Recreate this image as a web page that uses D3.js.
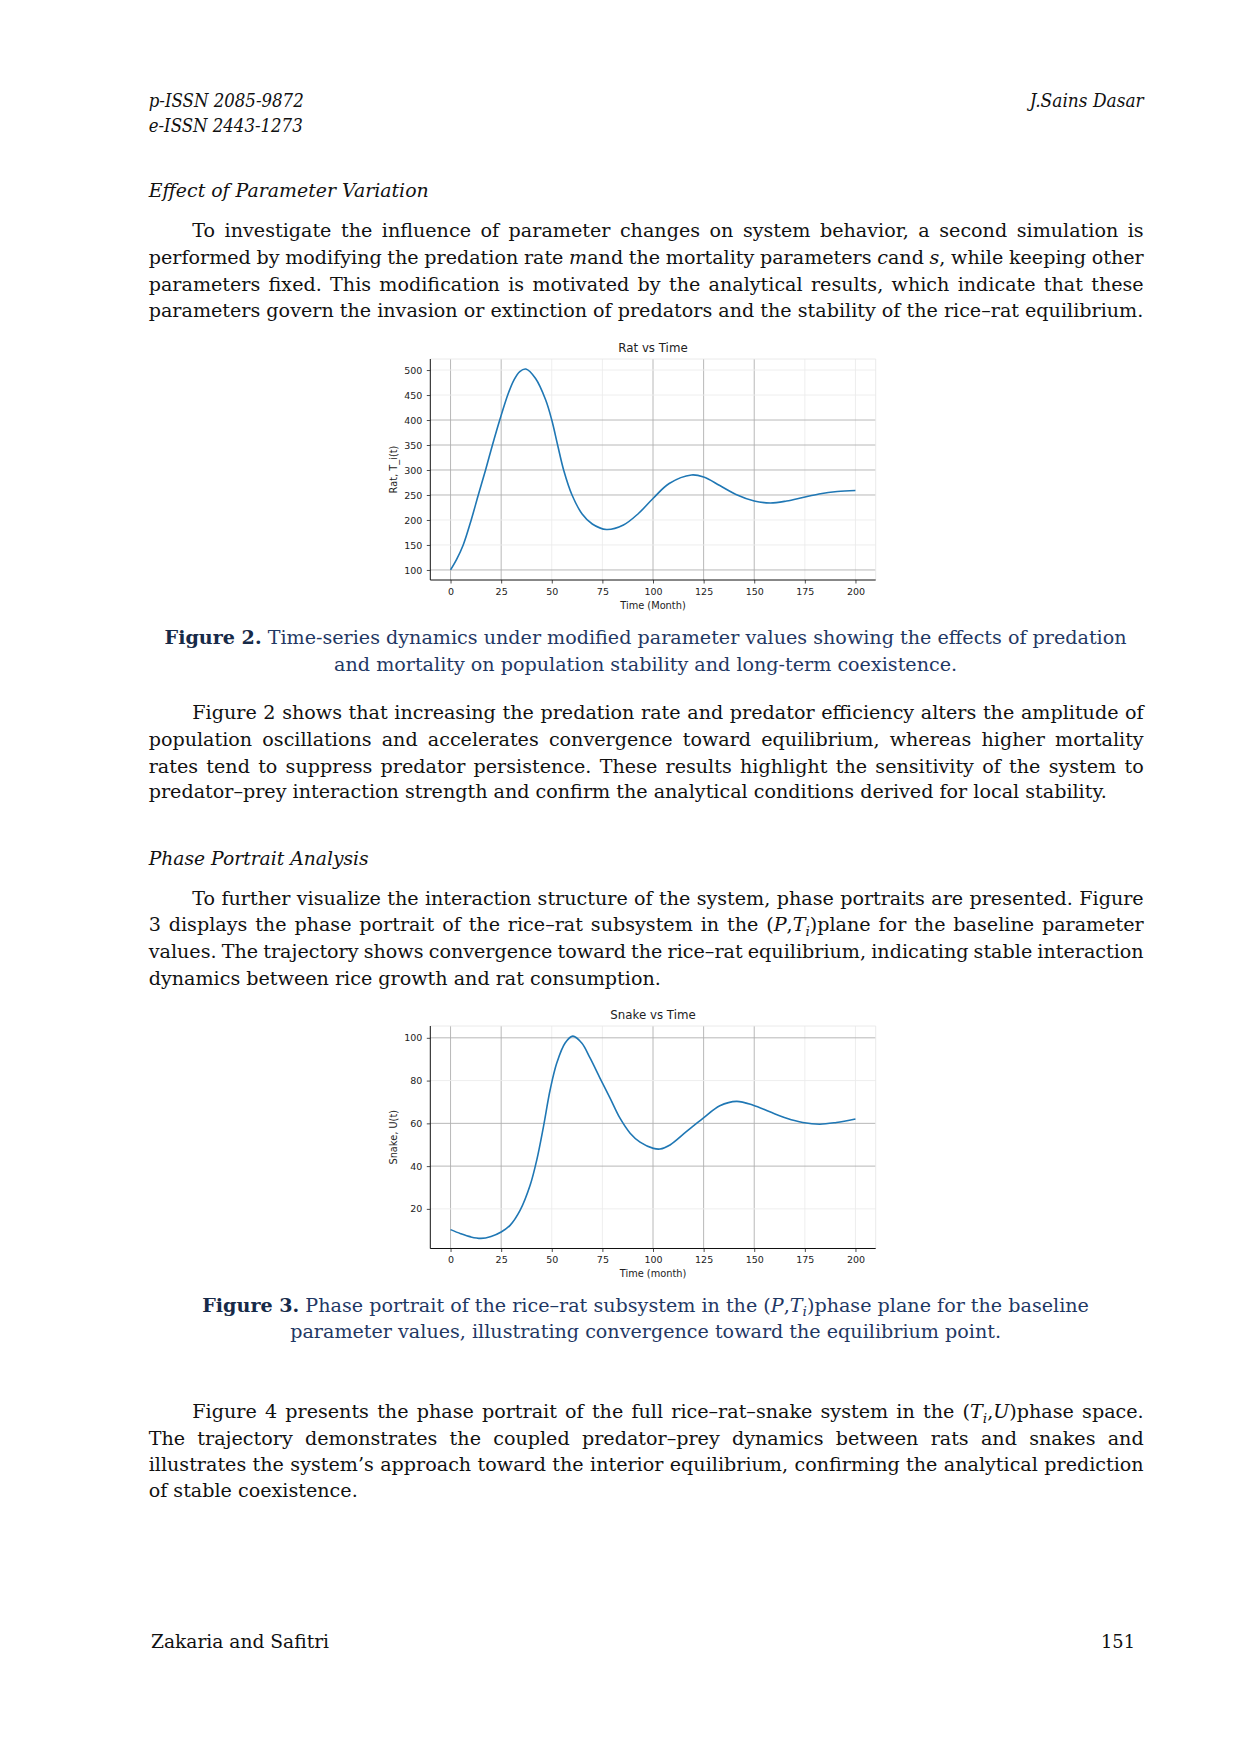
<!DOCTYPE html>
<html>
<head>
<meta charset="utf-8">
<script src="https://cdn.jsdelivr.net/npm/d3@7"></script>
<style>
  body { margin: 0; background: #fff; }
</style>
</head>
<body>
<svg id="page" width="1240" height="1754"></svg>
<script>
// ---- chart data ----
var ratTime   = [0, 3, 6.25, 10.2, 13.7, 17.3, 20.7, 24.3, 28.5, 31.3, 34.2, 37.2, 42, 47, 50, 53, 56, 60, 65, 70, 77, 85.4, 92.8, 100, 108, 119, 125, 133, 141, 150, 158, 166, 174, 182, 191, 200];
var ratValues = [100, 121, 150, 200, 250, 300, 350, 400, 453, 480, 497, 502, 483, 440, 400, 348, 298, 250, 212, 192, 181, 190, 213, 243, 273, 290, 286, 269, 251, 238, 234, 238, 245, 252, 257, 259];

var snakeTime   = [0, 5, 10, 15, 20, 25, 29.4, 34.4, 39.3, 42.6, 45.9, 49.2, 52.5, 56.6, 60.4, 64.8, 68.9, 73.8, 78.8, 83.7, 88.7, 93.6, 100.2, 103.5, 108.4, 116.6, 124.8, 133, 141.3, 149.5, 157.7, 166, 174, 182.4, 190.6, 200];
var snakeValues = [10.3, 8.4, 6.9, 6.2, 7.1, 9.2, 12.3, 19.4, 31, 42.9, 58.5, 75.7, 88.3, 97.6, 100.8, 97.6, 90.6, 81.2, 71.8, 62.4, 55.4, 51.2, 48.3, 48, 49.9, 56.2, 62.4, 68.2, 70.3, 68.5, 65.4, 62.4, 60.4, 59.6, 60.4, 62];

var timeTicks  = [0, 25, 50, 75, 100, 125, 150, 175, 200];
var ratTicks   = [100, 150, 200, 250, 300, 350, 400, 450, 500];
var snakeTicks = [20, 40, 60, 80, 100];

// gridlines that come out very light in the scanned figure
var ratFaintX = [50, 75, 175, 200], ratFaintY = [150, 200, 450, 500];
var snakeFaintX = [50, 75, 175, 200], snakeFaintY = [20, 80];

// ---- page text ----
// plain string = roman, [text, "I"] italic, [text, "B"] bold, [text, "S"] italic subscript
var para1 = [
  ["To investigate the influence of parameter changes on system behavior, a second simulation is"],
  ["performed by modifying the predation rate ", ["m", "I"], "and the mortality parameters ", ["c", "I"], "and ", ["s", "I"], ", while keeping other"],
  ["parameters fixed. This modification is motivated by the analytical results, which indicate that these"],
  ["parameters govern the invasion or extinction of predators and the stability of the rice–rat equilibrium."]
];
var caption2 = [
  [["Figure 2.", "B"], " Time-series dynamics under modified parameter values showing the effects of predation"],
  ["and mortality on population stability and long-term coexistence."]
];
var para2 = [
  ["Figure 2 shows that increasing the predation rate and predator efficiency alters the amplitude of"],
  ["population oscillations and accelerates convergence toward equilibrium, whereas higher mortality"],
  ["rates tend to suppress predator persistence. These results highlight the sensitivity of the system to"],
  ["predator–prey interaction strength and confirm the analytical conditions derived for local stability."]
];
var para3 = [
  ["To further visualize the interaction structure of the system, phase portraits are presented. Figure"],
  ["3 displays the phase portrait of the rice–rat subsystem in the (", ["P", "I"], ",", ["T", "I"], ["i", "S"], ")plane for the baseline parameter"],
  ["values. The trajectory shows convergence toward the rice–rat equilibrium, indicating stable interaction"],
  ["dynamics between rice growth and rat consumption."]
];
var caption3 = [
  [["Figure 3.", "B"], " Phase portrait of the rice–rat subsystem in the (", ["P", "I"], ",", ["T", "I"], ["i", "S"], ")phase plane for the baseline"],
  ["parameter values, illustrating convergence toward the equilibrium point."]
];
var para4 = [
  ["Figure 4 presents the phase portrait of the full rice–rat–snake system in the (", ["T", "I"], ["i", "S"], ",", ["U", "I"], ")phase space."],
  ["The trajectory demonstrates the coupled predator–prey dynamics between rats and snakes and"],
  ["illustrates the system’s approach toward the interior equilibrium, confirming the analytical prediction"],
  ["of stable coexistence."]
];

var svg = d3.select("#page");
var serif = "'DejaVu Serif', 'Liberation Serif', serif";
var sans = "'DejaVu Sans', sans-serif";
var marginL = 148.7, marginR = 1143.7, indent = 43.6, capCenter = 645.6;
var capColor = "#1f3864";

function addLine(segs, x, yc, size, color, anchor) {
  var t = svg.append("text")
      .attr("x", x).attr("y", yc + size * 0.3)
      .attr("text-anchor", anchor || "start")
      .style("font-family", serif).style("font-size", size + "px")
      .attr("fill", color || "#111");
  var shift = 0;
  segs.forEach(function(s) {
    if (typeof s === "string") s = [s, ""];
    var ts = t.append("tspan").text(s[0]);
    var dy = 0;
    if (s[1] === "S") {
      dy = size * 0.25; shift = dy;
      ts.style("font-size", (size * 0.72) + "px").style("font-style", "italic");
    } else if (shift) { dy = -shift; shift = 0; }
    if (dy) ts.attr("dy", dy);
    if (s[1] === "I") ts.style("font-style", "italic");
    if (s[1] === "B") ts.style("font-weight", "bold").attr("fill", "#172a48");
  });
  return t;
}

function justify(t, width) {
  var len = t.node().getComputedTextLength();
  var n = (t.text().match(/ /g) || []).length;
  if (n) t.style("word-spacing", ((width - len) / n) + "px");
}

// fit the body size so a full natural line spans the text block
var probe = addLine(para1[3], 0, -100, 20);
var bodySize = 20 * (marginR - marginL) / probe.node().getComputedTextLength();
probe.remove();

function paragraph(lines, ys) {
  lines.forEach(function(segs, i) {
    var x = i === 0 ? marginL + indent : marginL;
    var t = addLine(segs, x, ys[i], bodySize);
    if (i < lines.length - 1) justify(t, marginR - x);
  });
}

function caption(lines, ys) {
  lines.forEach(function(segs, i) {
    addLine(segs, capCenter, ys[i], bodySize, capColor, "middle");
  });
}

function fixedText(str, x, yc, width, italic, anchor) {
  svg.append("text")
    .attr("x", x).attr("y", yc + bodySize * 0.3)
    .attr("text-anchor", anchor || "start")
    .attr("textLength", width).attr("lengthAdjust", "spacingAndGlyphs")
    .style("font-family", serif).style("font-size", bodySize + "px")
    .style("font-style", italic ? "italic" : "normal")
    .attr("fill", "#111")
    .text(str);
}

// header, headings, footer
fixedText("p-ISSN 2085-9872", marginL, 101.7, 155, true);
fixedText("e-ISSN 2443-1273", marginL, 126.3, 154, true);
fixedText("J.Sains Dasar", marginR, 101.7, 114, true, "end");
fixedText("Effect of Parameter Variation", marginL, 191.2, 280, true);
fixedText("Phase Portrait Analysis", marginL, 859.7, 220, true);
fixedText("Zakaria and Safitri", 151, 1642.3, 178, false);
fixedText("151", 1135, 1642.3, 34, false, "end");

paragraph(para1, [231.4, 258.3, 285.1, 310.8]);
caption(caption2, [638.4, 665.2]);
paragraph(para2, [713.3, 740.1, 767.0, 792.7]);
paragraph(para3, [898.9, 925.7, 952.5, 979.4]);
caption(caption3, [1305.8, 1332.7]);
paragraph(para4, [1412.0, 1438.9, 1465.7, 1491.4]);

// ---- charts ----
function drawChart(cfg) {
  var g = svg.append("g");
  var x = d3.scaleLinear().domain([-10, 210]).range([cfg.left, cfg.right]);
  var ext = d3.extent(cfg.values), pad = (ext[1] - ext[0]) * 0.05;
  var y = d3.scaleLinear().domain([ext[0] - pad, ext[1] + pad]).range([cfg.bottom, cfg.top]);

  // grid
  g.selectAll("line.gx").data(timeTicks).enter().append("line")
    .attr("x1", function(d) { return x(d); }).attr("x2", function(d) { return x(d); })
    .attr("y1", cfg.top).attr("y2", cfg.bottom)
    .attr("stroke", function(d) { return cfg.faintX.indexOf(d) >= 0 ? "#ececec" : "#b0b0b0"; })
    .attr("stroke-width", 0.9);
  g.selectAll("line.gy").data(cfg.yTicks).enter().append("line")
    .attr("y1", function(d) { return y(d); }).attr("y2", function(d) { return y(d); })
    .attr("x1", cfg.left).attr("x2", cfg.right)
    .attr("stroke", function(d) { return cfg.faintY.indexOf(d) >= 0 ? "#ececec" : "#b0b0b0"; })
    .attr("stroke-width", 0.9);

  // faint top/right frame
  g.append("path")
    .attr("d", "M" + cfg.left + "," + cfg.top + "H" + cfg.right + "V" + cfg.bottom)
    .attr("fill", "none").attr("stroke", "#e8e8e8").attr("stroke-width", 0.9);

  // series
  var line = d3.line()
    .x(function(d, i) { return x(cfg.time[i]); })
    .y(function(d) { return y(d); })
    .curve(d3.curveCatmullRom.alpha(0.5));
  g.append("path").datum(cfg.values)
    .attr("d", line)
    .attr("fill", "none").attr("stroke", "#1f77b4").attr("stroke-width", 1.6);

  // axes
  var ax = g.append("g").attr("transform", "translate(0," + cfg.bottom + ")")
    .call(d3.axisBottom(x).tickValues(timeTicks).tickSize(3.5).tickPadding(4.5));
  var ay = g.append("g").attr("transform", "translate(" + cfg.left + ",0)")
    .call(d3.axisLeft(y).tickValues(cfg.yTicks).tickSize(3.5).tickPadding(4.5));
  [ax, ay].forEach(function(a) {
    a.select(".domain").attr("stroke", "#111").attr("stroke-width", 1);
    a.selectAll(".tick line").attr("stroke", "#222").attr("stroke-width", 0.8);
    a.selectAll(".tick text").attr("fill", "#222")
      .style("font-family", sans).style("font-size", "9.5px");
  });
  ax.select(".domain").attr("d", "M" + cfg.left + ",0H" + cfg.right);
  ay.select(".domain").attr("d", "M0," + cfg.bottom + "V" + cfg.top);

  var mid = (cfg.left + cfg.right) / 2;
  g.append("text").attr("x", mid).attr("y", cfg.top - 7)
    .attr("text-anchor", "middle").attr("fill", "#222")
    .style("font-family", sans).style("font-size", "11.8px")
    .text(cfg.title);
  g.append("text").attr("x", mid).attr("y", cfg.bottom + 28.5)
    .attr("text-anchor", "middle").attr("fill", "#222")
    .style("font-family", sans).style("font-size", "9.8px")
    .text(cfg.xLabel);
  g.append("text")
    .attr("transform", "translate(" + (cfg.left - 33.5) + "," + ((cfg.top + cfg.bottom) / 2) + ") rotate(-90)")
    .attr("text-anchor", "middle").attr("fill", "#222")
    .style("font-family", sans).style("font-size", "9.8px")
    .text(cfg.yLabel);
}

drawChart({
  left: 430.3, right: 875.7, top: 359, bottom: 580,
  time: ratTime, values: ratValues, yTicks: ratTicks,
  faintX: ratFaintX, faintY: ratFaintY,
  title: "Rat vs Time", xLabel: "Time (Month)", yLabel: "Rat, T_i(t)"
});

drawChart({
  left: 430.3, right: 875.7, top: 1026, bottom: 1248.5,
  time: snakeTime, values: snakeValues, yTicks: snakeTicks,
  faintX: snakeFaintX, faintY: snakeFaintY,
  title: "Snake vs Time", xLabel: "Time (month)", yLabel: "Snake, U(t)"
});
</script>
</body>
</html>
